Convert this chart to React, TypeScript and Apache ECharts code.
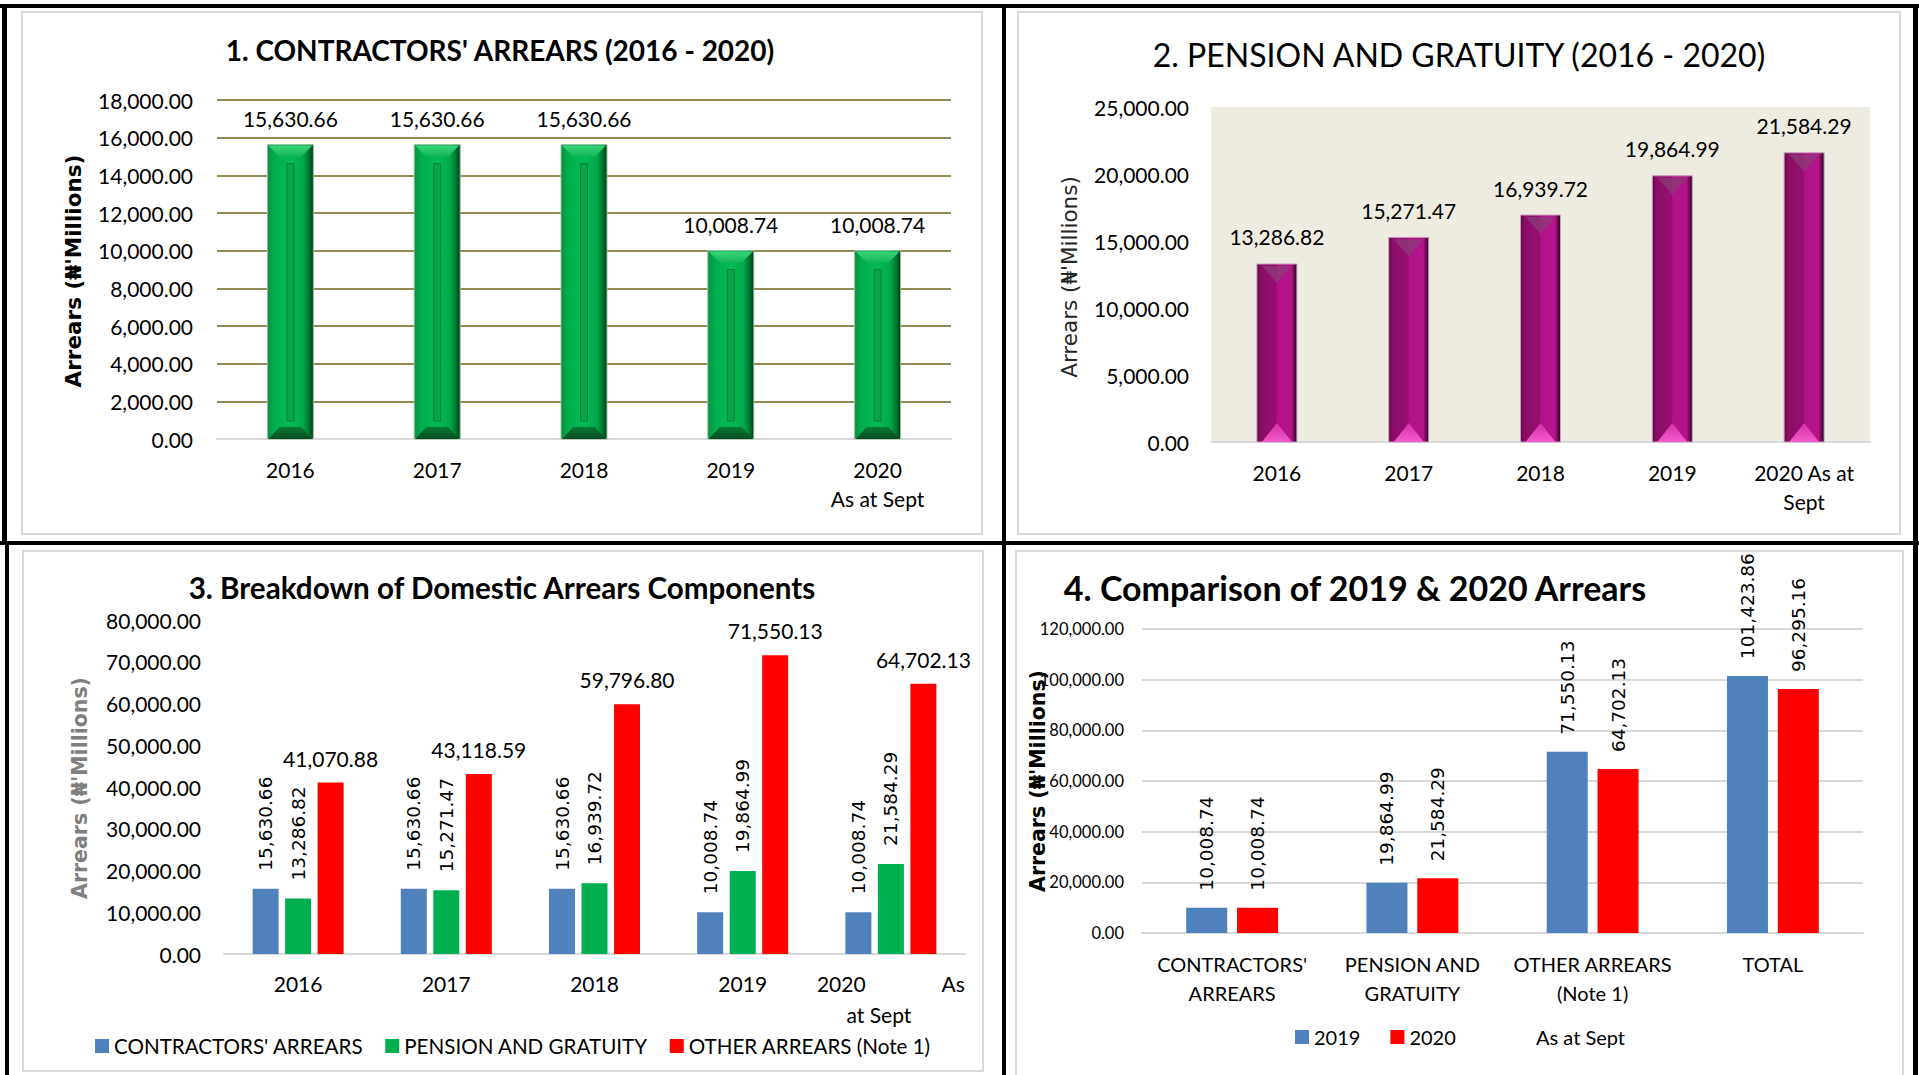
import React, { useEffect, useRef } from "react";
import * as echarts from "echarts";

// ---------- data ----------
const years = ["2016", "2017", "2018", "2019", "2020"];
const chart1Labels = ["2016", "2017", "2018", "2019", "2020\nAs at Sept"];
const chart2Labels = ["2016", "2017", "2018", "2019", "2020 As at\nSept"];
const chart3Labels = ["2016", "2017", "2018", "2019", "2020{g| }As\nat Sept{h| }"];
const contractorsArrears = [15630.66, 15630.66, 15630.66, 10008.74, 10008.74];
const pensionGratuity = [13286.82, 15271.47, 16939.72, 19864.99, 21584.29];
const otherArrears = [41070.88, 43118.59, 59796.8, 71550.13, 64702.13];
const chart4Categories = ["CONTRACTORS'\nARREARS", "PENSION AND\nGRATUITY", "OTHER ARREARS\n(Note 1)", "TOTAL"];
const arrears2019 = [10008.74, 19864.99, 71550.13, 101423.86];
const arrears2020 = [10008.74, 21584.29, 64702.13, 96295.16];

const titles = [
  "1. CONTRACTORS' ARREARS (2016 - 2020)",
  "2. PENSION AND GRATUITY (2016 - 2020)",
  "3. Breakdown of Domestic Arrears Components",
  "4. Comparison of 2019 & 2020 Arrears",
];
const yTitle = "Arrears (\u20A6'Millions)";
const legend3 = ["CONTRACTORS' ARREARS", "PENSION AND GRATUITY", "OTHER ARREARS (Note 1)"];
const legend4 = ["2019", "2020"];

const fmt = (v: number) =>
  Number(v).toLocaleString("en-US", { minimumFractionDigits: 2, maximumFractionDigits: 2 });

const CAL = "Lato";
const VER = "DejaVu Sans";

function greenBar(params: any, api: any) {
  const idx = api.value(0);
  const val = api.value(1);
  const top = api.coord([idx, val]);
  const base = api.coord([idx, 0]);
  const w = 46;
  const cx = top[0];
  const x0 = cx - w / 2;
  const x1 = cx + w / 2;
  const y0 = top[1];
  const y1 = base[1];
  const b = 12;
  return {
    type: "group",
    children: [
      {
        type: "rect",
        shape: { x: x0, y: y0, width: w, height: y1 - y0 },
        style: {
          fill: new echarts.graphic.LinearGradient(0, 0, 1, 0, [
            { offset: 0, color: "#078f3d" },
            { offset: 0.15, color: "#00ad4e" },
            { offset: 0.5, color: "#00bb56" },
            { offset: 0.78, color: "#00a84b" },
            { offset: 0.9, color: "#007832" },
            { offset: 1, color: "#003d16" },
          ]),
          stroke: "#9bbfa6",
          lineWidth: 1,
        },
      },
      {
        type: "polygon",
        shape: { points: [[x0 + 1, y0 + 1], [x1 - 1, y0 + 1], [x1 - b, y0 + b], [x0 + b, y0 + b]] },
        style: {
          fill: new echarts.graphic.LinearGradient(0, 0, 0, 1, [
            { offset: 0, color: "#3ad47a" },
            { offset: 1, color: "#12b757" },
          ]),
        },
      },
      {
        type: "polygon",
        shape: { points: [[x0 + 1, y1], [x1 - 1, y1], [x1 - b, y1 - b], [x0 + b, y1 - b]] },
        style: {
          fill: new echarts.graphic.LinearGradient(0, 0, 0, 1, [
            { offset: 0, color: "#0a7a36" },
            { offset: 1, color: "#054a20" },
          ]),
        },
      },
      {
        type: "rect",
        shape: { x: cx - 3.5, y: y0 + 19, width: 7, height: Math.max(0, y1 - y0 - 37) },
        style: { fill: "#05a548", stroke: "#0a7d38", lineWidth: 1 },
      },
      {
        type: "text",
        x: cx,
        y: y0 - 26,
        style: {
          text: fmt(val),
          textAlign: "center",
          textVerticalAlign: "middle",
          fontSize: 21,
          fontFamily: CAL,
          fill: "#000",
        },
      },
    ],
  };
}

function magentaBar(params: any, api: any) {
  const idx = api.value(0);
  const val = api.value(1);
  const top = api.coord([idx, val]);
  const base = api.coord([idx, 0]);
  const w = 40;
  const cx = top[0];
  const x0 = cx - w / 2;
  const x1 = cx + w / 2;
  const y0 = top[1];
  const y1 = base[1];
  return {
    type: "group",
    children: [
      {
        type: "rect",
        shape: { x: x0, y: y0, width: w, height: y1 - y0 },
        style: {
          fill: new echarts.graphic.LinearGradient(0, 0, 1, 0, [
            { offset: 0, color: "#5e0945" },
            { offset: 0.1, color: "#8a0d66" },
            { offset: 0.48, color: "#960f70" },
            { offset: 0.52, color: "#b3138a" },
            { offset: 0.86, color: "#b5138b" },
            { offset: 0.93, color: "#6e0a52" },
            { offset: 1, color: "#22021b" },
          ]),
          stroke: "#c9a3c2",
          lineWidth: 1,
        },
      },
      {
        type: "polygon",
        shape: { points: [[x0 + 5, y0 + 2], [x1 - 5, y0 + 2], [cx, y0 + 19]] },
        style: { fill: "rgba(140,60,120,0.75)" },
      },
      {
        type: "polygon",
        shape: { points: [[x0 + 5, y1], [x1 - 5, y1], [cx, y1 - 19]] },
        style: {
          fill: new echarts.graphic.LinearGradient(0, 0, 0, 1, [
            { offset: 0, color: "#d62fa9" },
            { offset: 1, color: "#f25ccb" },
          ]),
        },
      },
      {
        type: "text",
        x: cx,
        y: y0 - 27,
        style: {
          text: fmt(val),
          textAlign: "center",
          textVerticalAlign: "middle",
          fontSize: 21,
          fontFamily: CAL,
          fill: "#000",
        },
      },
    ],
  };
}

const axisLabelBase = { fontFamily: CAL, color: "#000" };

function buildOption() {
  const grayLine = { lineStyle: { color: "#D9D9D9", width: 2 } };
  const c1SplitColors = ["#D9D9D9", "#948A54", "#948A54", "#948A54", "#948A54", "#948A54", "#948A54", "#948A54", "#948A54", "#948A54"];

  const rotLabel = (distance: number) => ({
    show: true,
    position: "top",
    rotate: 90,
    align: "left",
    verticalAlign: "middle",
    distance,
    fontFamily: VER,
    fontSize: 18.5,
    color: "#000",
    formatter: (p: any) => fmt(p.value),
  });

  const graphicTexts: any[] = [];
  const addText = (x: number, y: number, text: string, opts: any) =>
    graphicTexts.push({
      type: "text",
      x,
      y,
      rotation: opts.rotation || 0,
      z: 100,
      style: {
        text,
        textAlign: opts.align || "center",
        textVerticalAlign: "middle",
        fontSize: opts.size,
        fontFamily: opts.family || CAL,
        fontWeight: opts.weight || "normal",
        fill: opts.color || "#000",
      },
    });

  addText(500, 50, titles[0], { size: 28, weight: "bold" });
  addText(1459, 54, titles[1], { size: 32 });
  addText(502, 587, titles[2], { size: 29.6, weight: "bold" });
  addText(1355, 587, titles[3], { size: 34, weight: "bold" });
  addText(73, 271, yTitle, { size: 21.5, weight: "bold", family: VER, rotation: Math.PI / 2 });
  addText(1069, 277, yTitle, { size: 21.5, family: VER, rotation: Math.PI / 2, color: "#262626" });
  addText(80, 788, yTitle, { size: 20.5, weight: "bold", family: VER, rotation: Math.PI / 2, color: "#7f7f7f" });
  addText(1038, 781, yTitle, { size: 20.5, weight: "bold", family: VER, rotation: Math.PI / 2 });
  addText(1536, 1037, "As at Sept", { size: 20, align: "left" });

  const black = "#000";
  const frame: any[] = [
    // panels
    { type: "rect", shape: { x: 22, y: 12, width: 960, height: 522 }, style: { fill: "#fff", stroke: "#D9D9D9", lineWidth: 2 }, z: -10 },
    { type: "rect", shape: { x: 1018, y: 12, width: 882, height: 522 }, style: { fill: "#fff", stroke: "#D9D9D9", lineWidth: 2 }, z: -10 },
    { type: "rect", shape: { x: 23, y: 551, width: 960, height: 520 }, style: { fill: "#fff", stroke: "#D9D9D9", lineWidth: 2 }, z: -10 },
    { type: "rect", shape: { x: 1016, y: 551, width: 887, height: 540 }, style: { fill: "#fff", stroke: "#D9D9D9", lineWidth: 2 }, z: -10 },
    // black frame lines
    { type: "rect", shape: { x: 0, y: 4, width: 1919, height: 4 }, style: { fill: black }, z: -5 },
    { type: "rect", shape: { x: 2, y: 4, width: 5, height: 540 }, style: { fill: black }, z: -5 },
    { type: "rect", shape: { x: 5, y: 541, width: 4, height: 534 }, style: { fill: black }, z: -5 },
    { type: "rect", shape: { x: 0, y: 541, width: 1919, height: 4 }, style: { fill: black }, z: -5 },
    { type: "rect", shape: { x: 1002, y: 4, width: 4, height: 1071 }, style: { fill: black }, z: -5 },
    { type: "rect", shape: { x: 1913, y: 4, width: 5, height: 1071 }, style: { fill: black }, z: -5 },
  ];

  return {
    animation: false,
    backgroundColor: "#fff",
    textStyle: { fontFamily: CAL },
    graphic: { elements: [...frame, ...graphicTexts] },
    grid: [
      { left: 217, top: 100, width: 734, height: 339, outerBoundsMode: "none" },
      { left: 1211, top: 107, width: 659, height: 335, show: true, backgroundColor: "#EEECE1", borderWidth: 0, outerBoundsMode: "none" },
      { left: 224, top: 620, width: 741, height: 334, outerBoundsMode: "none" },
      { left: 1142, top: 629, width: 721, height: 304, outerBoundsMode: "none" },
    ],
    legend: [
      {
        data: legend3,
        left: 95,
        top: 1035,
        padding: 0,
        itemWidth: 14,
        itemHeight: 14,
        itemGap: 22,
        icon: "rect",
        selectedMode: false,
        textStyle: { fontFamily: CAL, fontSize: 20.6, color: "#000", lineHeight: 22 },
      },
      {
        data: legend4,
        left: 1295,
        top: 1026,
        padding: 0,
        itemWidth: 14,
        itemHeight: 14,
        itemGap: 30,
        icon: "rect",
        selectedMode: false,
        textStyle: { fontFamily: CAL, fontSize: 20, color: "#000", lineHeight: 22 },
      },
    ],
    xAxis: [
      {
        gridIndex: 0,
        type: "category",
        data: chart1Labels,
        axisTick: { show: false },
        axisLine: grayLine,
        axisLabel: { ...axisLabelBase, fontSize: 21, lineHeight: 29, margin: 16, interval: 0 },
      },
      {
        gridIndex: 1,
        type: "category",
        data: chart2Labels,
        axisTick: { show: false },
        axisLine: grayLine,
        axisLabel: { ...axisLabelBase, fontSize: 21, lineHeight: 29, margin: 16, interval: 0 },
      },
      {
        gridIndex: 2,
        type: "category",
        data: chart3Labels,
        axisTick: { show: false },
        axisLine: grayLine,
        axisLabel: {
          ...axisLabelBase,
          fontSize: 21,
          lineHeight: 31,
          margin: 14,
          interval: 0,
          rich: {
            g: { width: 76, fontSize: 21, fontFamily: CAL },
            h: { width: 24, fontSize: 21, fontFamily: CAL },
          },
        },
      },
      {
        gridIndex: 3,
        type: "category",
        data: chart4Categories,
        axisTick: { show: false },
        axisLine: grayLine,
        axisLabel: { ...axisLabelBase, fontSize: 20, lineHeight: 29, margin: 16, interval: 0 },
      },
    ],
    yAxis: [
      {
        gridIndex: 0,
        type: "value",
        min: 0,
        max: 18000,
        interval: 2000,
        axisLine: { show: false },
        axisTick: { show: false },
        splitLine: { show: true, lineStyle: { color: c1SplitColors, width: 2 } },
        axisLabel: { ...axisLabelBase, fontSize: 21, margin: 24, formatter: (v: number) => fmt(v) },
      },
      {
        gridIndex: 1,
        type: "value",
        min: 0,
        max: 25000,
        interval: 5000,
        axisLine: { show: false },
        axisTick: { show: false },
        splitLine: { show: false },
        axisLabel: { ...axisLabelBase, fontSize: 21, margin: 22, formatter: (v: number) => fmt(v) },
      },
      {
        gridIndex: 2,
        type: "value",
        min: 0,
        max: 80000,
        interval: 10000,
        axisLine: { show: false },
        axisTick: { show: false },
        splitLine: { show: false },
        axisLabel: { ...axisLabelBase, fontSize: 21, margin: 23, formatter: (v: number) => fmt(v) },
      },
      {
        gridIndex: 3,
        type: "value",
        min: 0,
        max: 120000,
        interval: 20000,
        axisLine: { show: false },
        axisTick: { show: false },
        splitLine: { show: true, lineStyle: { color: "#D9D9D9", width: 2 } },
        axisLabel: { ...axisLabelBase, fontSize: 16.5, margin: 18, formatter: (v: number) => fmt(v) },
      },
    ],
    series: [
      {
        name: "c1",
        type: "custom",
        xAxisIndex: 0,
        yAxisIndex: 0,
        renderItem: greenBar,
        data: contractorsArrears.map((v, i) => [i, v]),
      },
      {
        name: "c2",
        type: "custom",
        xAxisIndex: 1,
        yAxisIndex: 1,
        renderItem: magentaBar,
        data: pensionGratuity.map((v, i) => [i, v]),
      },
      {
        name: legend3[0],
        type: "bar",
        xAxisIndex: 2,
        yAxisIndex: 2,
        barWidth: 26,
        barGap: "25%",
        itemStyle: { color: "#4F81BD" },
        label: rotLabel(18),
        data: contractorsArrears,
      },
      {
        name: legend3[1],
        type: "bar",
        xAxisIndex: 2,
        yAxisIndex: 2,
        barWidth: 26,
        barGap: "25%",
        itemStyle: { color: "#00B050" },
        label: rotLabel(18),
        data: pensionGratuity,
      },
      {
        name: legend3[2],
        type: "bar",
        xAxisIndex: 2,
        yAxisIndex: 2,
        barWidth: 26,
        barGap: "25%",
        itemStyle: { color: "#FF0000" },
        label: {
          show: true,
          position: "top",
          distance: 14,
          fontFamily: CAL,
          fontSize: 21,
          color: "#000",
          formatter: (p: any) => fmt(p.value),
        },
        data: otherArrears,
      },
      {
        name: legend4[0],
        type: "bar",
        xAxisIndex: 3,
        yAxisIndex: 3,
        barWidth: 41,
        barGap: "24%",
        itemStyle: { color: "#4F81BD" },
        label: rotLabel(17),
        data: arrears2019,
      },
      {
        name: legend4[1],
        type: "bar",
        xAxisIndex: 3,
        yAxisIndex: 3,
        barWidth: 41,
        barGap: "24%",
        itemStyle: { color: "#FF0000" },
        label: rotLabel(17),
        data: arrears2020,
      },
    ],
  };
}

export default function App() {
  const ref = useRef<HTMLDivElement>(null);
  useEffect(() => {
    if (!ref.current) return;
    document.body.style.margin = "0";
    const chart = echarts.init(ref.current, undefined, { renderer: "svg" });
    chart.setOption(buildOption() as any);
    return () => chart.dispose();
  }, []);
  return (
    <div
      ref={ref}
      style={{ position: "fixed", left: 0, top: 0, width: 1919, height: 1075, background: "#fff" }}
    />
  );
}
